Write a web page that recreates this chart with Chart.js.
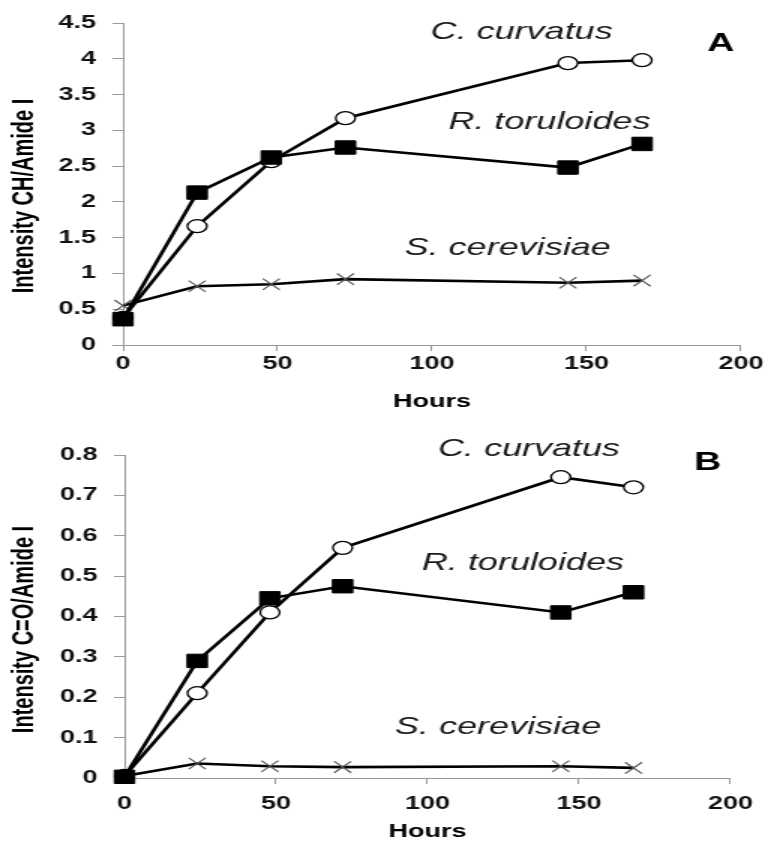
<!DOCTYPE html>
<html>
<head>
<meta charset="utf-8">
<script src="https://cdn.jsdelivr.net/npm/chart.js@4/dist/chart.umd.min.js"></script>
<style>
    html, body { margin: 0; padding: 0; background: #fff; overflow: hidden; }
    /* figure is drawn narrow, then stretched horizontally */
    .panel { position: absolute; left: 0; width: 511px; transform: scaleX(1.5); transform-origin: 0 0; }
    #panelA { top: 0; height: 420px; }
    #panelB { top: 420px; height: 424px; }
</style>
</head>
<body>
<div class="panel" id="panelA"><canvas id="chartA" width="511" height="420"></canvas></div>
<div class="panel" id="panelB"><canvas id="chartB" width="511" height="424"></canvas></div>
<script>
// Время отбора проб, ч
const hours = [0, 24, 48, 72, 144, 168];
const xTicks = [0, 50, 100, 150, 200];

// A: CH / Amide I
const curvatusCH = [0.38, 1.66, 2.57, 3.17, 3.94, 3.98];
const toruloidesCH = [0.36, 2.13, 2.62, 2.76, 2.48, 2.81];
const cerevisiaeCH = [0.55, 0.82, 0.85, 0.92, 0.87, 0.90];
const yTicksA = [0, 0.5, 1, 1.5, 2, 2.5, 3, 3.5, 4, 4.5];

// B: C=O / Amide I
const curvatusCO = [0.005, 0.21, 0.41, 0.57, 0.745, 0.72];
const toruloidesCO = [0.003, 0.29, 0.445, 0.475, 0.41, 0.46];
const cerevisiaeCO = [0.005, 0.036, 0.029, 0.027, 0.029, 0.025];
const yTicksB = [0, 0.1, 0.2, 0.3, 0.4, 0.5, 0.6, 0.7, 0.8];

const speciesNames = ['C. curvatus', 'R. toruloides', 'S. cerevisiae'];

Chart.defaults.font.family = '"Liberation Sans", Arial, sans-serif';
Chart.defaults.color = '#111';
Chart.defaults.animation = false;

function points(values) {
    return hours.map((h, i) => ({ x: h, y: values[i] }));
}

// Подписи видов, буква панели и подпись оси Y
const labelsPlugin = {
    id: 'speciesLabels',
    afterDatasetsDraw(chart, args, opts) {
        const ctx = chart.ctx;
        const xs = chart.scales.x, ys = chart.scales.y;
        const area = chart.chartArea;
        ctx.save();
        ctx.textAlign = 'center';
        ctx.textBaseline = 'middle';
        ctx.fillStyle = '#1a1a1a';
        ctx.font = 'italic 24px "Liberation Sans", Arial, sans-serif';
        opts.items.forEach(item => {
            ctx.fillText(item.text, xs.getPixelForValue(item.x), ys.getPixelForValue(item.y));
        });
        ctx.font = 'bold 25px "Liberation Sans", Arial, sans-serif';
        ctx.fillStyle = '#000';
        ctx.fillText(opts.letter.text, xs.getPixelForValue(opts.letter.x), ys.getPixelForValue(opts.letter.y));

        // подпись оси Y, чуть ниже центра области графика
        ctx.translate(16, (area.top + area.bottom) / 2 + opts.titleShift);
        ctx.rotate(-Math.PI / 2);
        ctx.font = 'bold 20px "Liberation Sans", Arial, sans-serif';
        ctx.fillText(opts.yTitle, 0, 0);
        ctx.restore();
    }
};

function makeChart(id, cfg) {
    const ticksFrom = arr => scale => { scale.ticks = arr.map(v => ({ value: v })); };
    return new Chart(document.getElementById(id), {
        type: 'scatter',
        data: {
            datasets: [
                {
                    label: speciesNames[1],
                    data: points(cfg.toruloides),
                    showLine: true,
                    borderColor: '#000',
                    borderWidth: 2.6,
                    pointStyle: 'rect',
                    pointRadius: 9.5,
                    pointBackgroundColor: '#000',
                    pointBorderColor: '#000',
                    pointBorderWidth: 1
                },
                {
                    label: speciesNames[0],
                    data: points(cfg.curvatus),
                    showLine: true,
                    borderColor: '#000',
                    borderWidth: 2.6,
                    pointStyle: 'circle',
                    pointRadius: 6.5,
                    pointBackgroundColor: '#fff',
                    pointBorderColor: '#000',
                    pointBorderWidth: 1.3
                },
                {
                    label: speciesNames[2],
                    data: points(cfg.cerevisiae),
                    showLine: true,
                    borderColor: '#000',
                    borderWidth: 2.6,
                    pointStyle: 'crossRot',
                    pointRadius: 8,
                    pointBorderColor: '#555',
                    pointBorderWidth: 1.1
                }
            ]
        },
        options: {
            responsive: false,
            clip: false,
            layout: { padding: { top: cfg.top, right: 16, left: 0, bottom: 0 } },
            plugins: {
                legend: { display: false },
                tooltip: { enabled: false },
                speciesLabels: { items: cfg.labels, letter: cfg.letter, yTitle: cfg.yTitle, titleShift: cfg.titleShift }
            },
            scales: {
                x: {
                    type: 'linear',
                    min: 0,
                    max: 200,
                    afterBuildTicks: ticksFrom(xTicks),
                    afterFit: scale => { scale.height = cfg.xHeight; },
                    grid: { display: true, drawOnChartArea: false, drawTicks: true, tickLength: 6, tickColor: '#999' },
                    border: { display: true, color: '#999', width: 1 },
                    ticks: { padding: cfg.xPad, font: { size: 18, weight: 'bold' }, color: '#111', maxRotation: 0,
                             callback: v => String(v) },
                    title: { display: true, text: 'Hours', font: { size: 18, weight: 'bold' }, color: '#000', padding: { top: 0, bottom: cfg.titleBottom } }
                },
                y: {
                    type: 'linear',
                    min: 0,
                    max: cfg.yMax,
                    afterBuildTicks: ticksFrom(cfg.yTicks),
                    afterFit: scale => { scale.width = cfg.yWidth; },
                    grid: { display: true, drawOnChartArea: false, drawTicks: true, tickLength: 7, tickColor: '#999' },
                    border: { display: true, color: '#999', width: 1 },
                    ticks: { padding: 11, font: { size: 18, weight: 'bold' }, color: '#111',
                             callback: v => String(v) }
                }
            }
        },
        plugins: [labelsPlugin]
    });
}

makeChart('chartA', {
    curvatus: curvatusCH,
    toruloides: toruloidesCH,
    cerevisiae: cerevisiaeCH,
    yTicks: yTicksA,
    yMax: 4.5,
    yTitle: 'Intensity CH/Amide I',
    titleShift: 12,
    top: 23,
    yWidth: 82,
    xHeight: 75,
    xPad: 2,
    titleBottom: 7,
    labels: [
        { text: speciesNames[0], x: 129, y: 4.37 },
        { text: speciesNames[1], x: 138, y: 3.11 },
        { text: speciesNames[2], x: 124.5, y: 1.35 }
    ],
    letter: { text: 'A', x: 193.5, y: 4.2 }
});

makeChart('chartB', {
    curvatus: curvatusCO,
    toruloides: toruloidesCO,
    cerevisiae: cerevisiaeCO,
    yTicks: yTicksB,
    yMax: 0.8,
    yTitle: 'Intensity C=O/Amide I',
    titleShift: 13,
    top: 35,
    yWidth: 83,
    xHeight: 66,
    xPad: 9,
    titleBottom: 1,
    labels: [
        { text: speciesNames[0], x: 133.5, y: 0.814 },
        { text: speciesNames[1], x: 131.5, y: 0.532 },
        { text: speciesNames[2], x: 123.3, y: 0.126 }
    ],
    letter: { text: 'B', x: 192.5, y: 0.78 }
});
</script>
</body>
</html>
